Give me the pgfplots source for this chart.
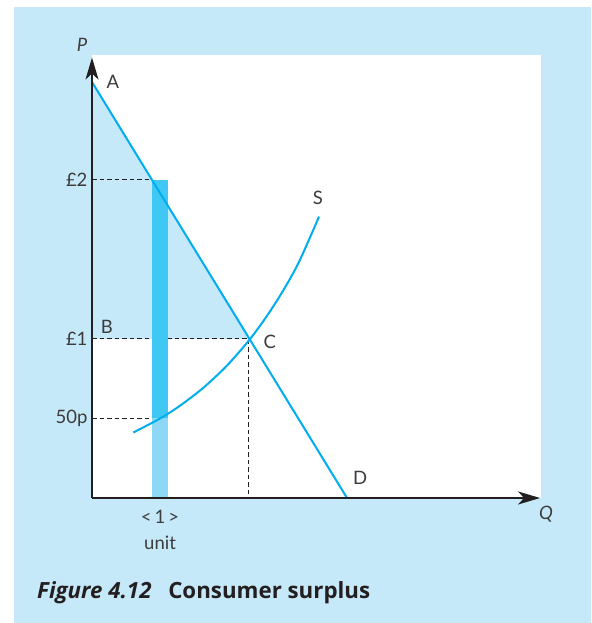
\documentclass[border=0pt]{standalone}
\usepackage{fontspec}
\setmainfont{Lato}
\newfontfamily\capfont{Open Sans}
\usepackage{pgfplots}
\pgfplotsset{compat=1.18}
\usetikzlibrary{arrows.meta}
\definecolor{bgblue}{HTML}{C6E9F9}
\definecolor{cyanline}{HTML}{00AEEF}
\definecolor{bardark}{HTML}{40C8F4}
\definecolor{barlight}{HTML}{8ED8F5}
\definecolor{axisblack}{HTML}{231F20}
\definecolor{labelgray}{HTML}{3C3C3C}
\begin{document}
\begin{tikzpicture}
\useasboundingbox (0pt,0pt) rectangle (591pt,623pt);
\fill[bgblue] (14pt,0pt) rectangle (591pt,616pt);
\fill[white] (92pt,125pt) rectangle (541pt,568pt);
\begin{axis}[
  at={(92pt,125pt)}, anchor=origin,
  x=159pt, y=159pt,
  xmin=0, xmax=2.818, ymin=0, ymax=2.77,
  axis lines=left,
  axis line style={line width=1.6pt, draw=axisblack, -{Stealth[length=22pt,width=13pt,inset=6pt]}},
  axis on top,
  ytick={0.5,1,2}, yticklabels={50p,£1,£2},
  xtick={0.428}, xticklabels={{<\,1\,>\\unit}},
  major tick length=0pt,
  tick label style={font=\fontsize{18.5}{26}\selectfont, text=labelgray},
  yticklabel style={xshift=-1pt},
  xticklabel style={align=center, yshift=-9pt},
  clip=false,
]
% consumer surplus triangle
\addplot[fill=bgblue, draw=none] coordinates {(0,2.616) (0.987,1) (0,1)} -- cycle;
% dashed guide lines
\addplot[axisblack, line width=1pt, dash pattern=on 4.5pt off 3pt] coordinates {(0,2) (0.377,2)};
\addplot[axisblack, line width=1pt, dash pattern=on 4.5pt off 3pt] coordinates {(0,1) (0.987,1) (0.987,0)};
\addplot[axisblack, line width=1pt, dash pattern=on 4.5pt off 3pt] coordinates {(0,0.5) (0.43,0.5)};
% one-unit bar
\addplot[fill=barlight, draw=none] coordinates {(0.377,0) (0.478,0) (0.478,0.5) (0.377,0.5)} -- cycle;
\addplot[fill=bardark, draw=none] coordinates {(0.377,0.5) (0.478,0.5) (0.478,2) (0.377,2)} -- cycle;
% demand
\addplot[cyanline, line width=2pt] coordinates {(0,2.616) (1.604,0)};
% supply
\addplot[cyanline, line width=2pt, smooth] coordinates {
(0.26,0.412) (0.428,0.500) (0.55,0.578) (0.70,0.693) (0.85,0.834) (0.994,1.000)
(1.10,1.145) (1.20,1.301) (1.30,1.481) (1.428,1.770)};
% point labels
\node[text=labelgray, font=\fontsize{18.5}{22}\selectfont] at (axis cs:0.132,2.616) {A};
\node[text=labelgray, font=\fontsize{18.5}{22}\selectfont] at (axis cs:0.094,1.075) {B};
\node[text=labelgray, font=\fontsize{18.5}{22}\selectfont] at (axis cs:1.119,0.981) {C};
\node[text=labelgray, font=\fontsize{18.5}{22}\selectfont] at (axis cs:1.421,1.887) {S};
\node[text=labelgray, font=\fontsize{18.5}{22}\selectfont] at (axis cs:1.686,0.126) {D};
\end{axis}
\node[text=labelgray, font=\fontsize{18.5}{22}\selectfont\itshape] at (82pt,578pt) {P};
\node[text=labelgray, font=\fontsize{18.5}{22}\selectfont\itshape] at (546pt,109pt) {Q};
\node[anchor=base west, inner sep=0pt, text=axisblack, font=\capfont\fontsize{22.3}{24}\selectfont\bfseries] at (37pt,24pt) {\itshape Figure 4.12\hspace{0.75em}\upshape Consumer surplus};
\end{tikzpicture}
\end{document}
